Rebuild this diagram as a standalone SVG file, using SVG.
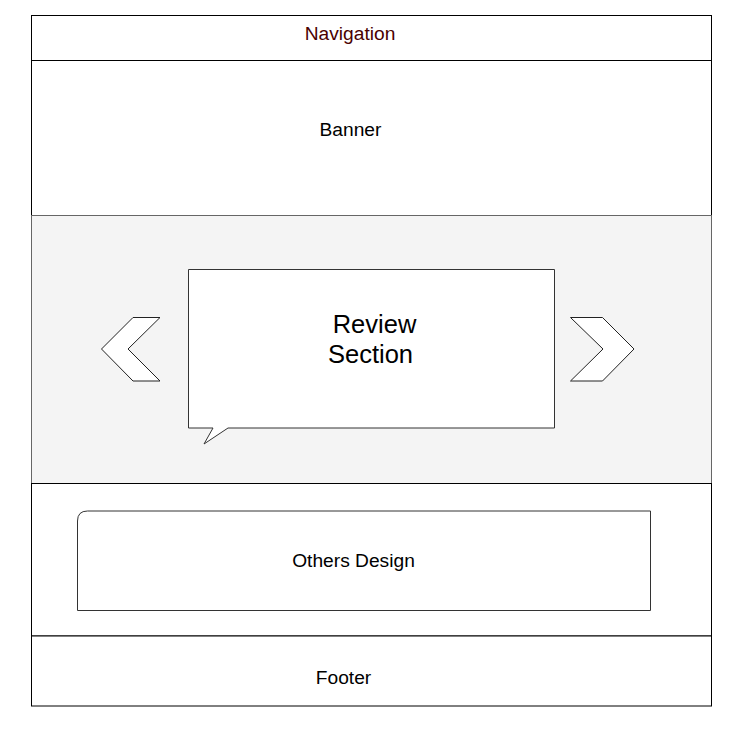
<svg xmlns="http://www.w3.org/2000/svg" width="744" height="729" viewBox="0 0 744 729">
<style>
.box{fill:#ffffff;stroke:#000000;stroke-width:1}
.gray{fill:#f4f4f4;stroke:#666666;stroke-width:1}
.shape{fill:#ffffff;stroke:#222222;stroke-width:1}
.lbl{font-family:"Liberation Sans",Arial,sans-serif;font-size:19.2px;fill:#000000;text-anchor:middle}
.big{font-size:25.5px}
</style>
<rect width="744" height="729" fill="#ffffff"/>
<g id="navigation">
<rect class="box" x="31.5" y="15.5" width="680" height="45"/>
<text class="lbl" x="350" y="39.5" style="fill:#4a0000">Navigation</text>
</g>
<g id="banner">
<rect class="box" x="31.5" y="60.5" width="680" height="155"/>
<text class="lbl" x="350.5" y="135.5">Banner</text>
</g>
<g id="review-area">
<rect class="gray" x="31.5" y="215.5" width="680" height="268"/>
</g>
<g id="prev-arrow">
<polygon class="shape" points="133,317.5 160,317.5 128,349 160,381 133,381 101.5,349"/>
</g>
<g id="next-arrow">
<polygon class="shape" points="570.5,317.5 602.5,317.5 634,349 602.5,381 570.5,381 603,349"/>
</g>
<g id="review-section">
<path class="shape" style="stroke:#333333" d="M188.5,269.5 H554.5 V428 H228 L204,444 L213,428 H188.5 Z"/>
<text class="lbl big" x="374.5" y="332.5">Review</text>
<text class="lbl big" x="370.5" y="363">Section</text>
</g>
<g id="others">
<rect class="box" x="31.5" y="483.5" width="680" height="152.5"/>
<path class="shape" style="stroke:#333333" d="M77.5,610.5 V521 Q77.5,511 87.5,511 H650.5 V610.5 Z"/>
<text class="lbl" x="353.5" y="566.5">Others Design</text>
</g>
<g id="footer">
<rect class="box" x="31.5" y="636" width="680" height="70"/>
<text class="lbl" x="343.5" y="683.5">Footer</text>
</g>
<g id="connectors"/>
</svg>
